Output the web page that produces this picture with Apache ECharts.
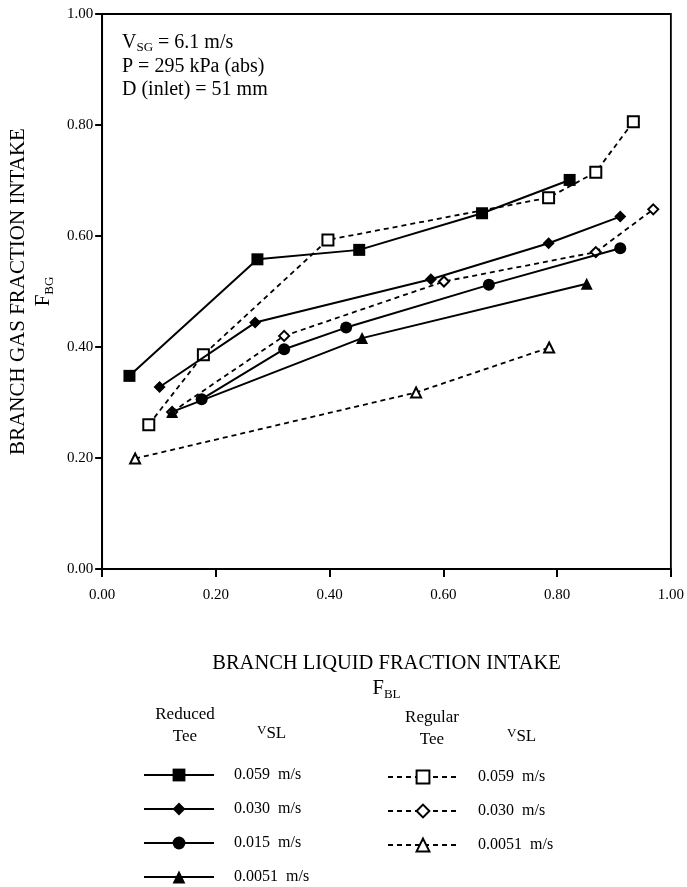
<!DOCTYPE html>
<html>
<head>
<meta charset="utf-8">
<script src="https://cdn.jsdelivr.net/npm/echarts@6/dist/echarts.min.js"></script>
<style>
  html, body { margin: 0; padding: 0; background: #fff; }
  #chart { width: 687px; height: 887px; }
</style>
</head>
<body>
<div id="chart"></div>
<script>
// Branch liquid fraction (F_BL) and branch gas fraction (F_BG) for each run
const reduced059X = [0.048, 0.273, 0.452, 0.668, 0.822];
const reduced059Y = [0.348, 0.558, 0.575, 0.641, 0.701];
const reduced030X = [0.101, 0.269, 0.578, 0.785, 0.911];
const reduced030Y = [0.328, 0.444, 0.522, 0.587, 0.635];
const reduced015X = [0.175, 0.320, 0.429, 0.680, 0.911];
const reduced015Y = [0.306, 0.396, 0.435, 0.512, 0.578];
const reduced0051X = [0.123, 0.457, 0.852];
const reduced0051Y = [0.283, 0.416, 0.514];

const regular059X = [0.082, 0.178, 0.397, 0.785, 0.868, 0.934];
const regular059Y = [0.260, 0.386, 0.593, 0.669, 0.715, 0.806];
const regular030X = [0.123, 0.320, 0.601, 0.868, 0.969];
const regular030Y = [0.283, 0.420, 0.518, 0.571, 0.648];
const regular0051X = [0.058, 0.552, 0.786];
const regular0051Y = [0.199, 0.318, 0.399];

const axisTicks = [0, 0.2, 0.4, 0.6, 0.8, 1.0];

const reducedLabels = ['0.059  m/s', '0.030  m/s', '0.015  m/s', '0.0051  m/s'];
const regularLabels = ['0.059  m/s', '0.030  m/s', '0.0051  m/s'];

const SERIF = '"Liberation Serif", "Times New Roman", serif';

function pairs(xs, ys) { return xs.map((x, i) => [x, ys[i]]); }

function reducedSeries(name, xs, ys, symbol, size) {
  return {
    name, type: 'line', data: pairs(xs, ys), z: 3,
    symbol, symbolSize: size,
    lineStyle: { color: '#000', width: 2, type: 'solid' },
    itemStyle: { color: '#000', borderColor: '#000', borderWidth: 0 },
    emphasis: { disabled: true }
  };
}
function regularSeries(name, xs, ys, symbol, size) {
  return {
    name, type: 'line', data: pairs(xs, ys), z: 2,
    symbol, symbolSize: size,
    lineStyle: { color: '#000', width: 1.8, type: [5, 4] },
    itemStyle: { color: '#fff', borderColor: '#000', borderWidth: 2 },
    emphasis: { disabled: true }
  };
}

const series = [
  regularSeries('R-0.059', regular059X, regular059Y, 'rect', 11),
  regularSeries('R-0.030', regular030X, regular030Y, 'diamond', 10),
  regularSeries('R-0.0051', regular0051X, regular0051Y, 'triangle', 10),
  reducedSeries('T-0.059', reduced059X, reduced059Y, 'rect', 12),
  reducedSeries('T-0.030', reduced030X, reduced030Y, 'diamond', 12),
  reducedSeries('T-0.015', reduced015X, reduced015Y, 'circle', 12),
  reducedSeries('T-0.0051', reduced0051X, reduced0051Y, 'triangle', 12)
];

const reducedNames = ['T-0.059', 'T-0.030', 'T-0.015', 'T-0.0051'];
const regularNames = ['R-0.059', 'R-0.030', 'R-0.0051'];
const legendLabel = {};
reducedNames.forEach((n, i) => legendLabel[n] = reducedLabels[i]);
regularNames.forEach((n, i) => legendLabel[n] = regularLabels[i]);

function subRich(size) {
  return {
    big: { fontFamily: SERIF, fontSize: size, color: '#000', lineHeight: 25, verticalAlign: 'middle' },
    sub: { fontFamily: SERIF, fontSize: 13, color: '#000', lineHeight: 15, verticalAlign: 'bottom', padding: [6, 0, 0, 0] }
  };
}

const legendCommon = {
  orient: 'vertical',
  padding: 0,
  itemWidth: 70,
  itemHeight: 16,
  itemGap: 18,
  selectedMode: false,
  formatter: n => legendLabel[n],
  textStyle: { fontFamily: SERIF, fontSize: 16, color: '#000', padding: [0, 0, 0, 15] }
};

const vslRich = {
  v: { fontFamily: SERIF, fontSize: 13, fill: '#000', verticalAlign: 'top', lineHeight: 18 },
  s: { fontFamily: SERIF, fontSize: 17, fill: '#000', verticalAlign: 'bottom', lineHeight: 15, padding: [7, 0, 0, 0] }
};

const chart = echarts.init(document.getElementById('chart'), null, { renderer: 'canvas' });
chart.setOption({
  animation: false,
  backgroundColor: '#fff',
  grid: {
    left: 100, right: 16, top: 14, bottom: 318,
    show: true, borderColor: '#000', borderWidth: 1.8, backgroundColor: 'transparent'
  },
  xAxis: {
    type: 'value', min: axisTicks[0], max: axisTicks[axisTicks.length - 1], interval: 0.2,
    axisLine: { lineStyle: { color: '#000', width: 2 } },
    axisTick: { show: true, length: 8, lineStyle: { color: '#000', width: 2 } },
    splitLine: { show: false },
    axisLabel: { formatter: v => v.toFixed(2), fontFamily: SERIF, fontSize: 15, color: '#000', margin: 19 },
    name: '{big|BRANCH LIQUID FRACTION INTAKE}\n{big|F}{sub|BL}',
    nameLocation: 'middle', nameGap: 82,
    nameTextStyle: { fontFamily: SERIF, fontSize: 20.5, color: '#000', rich: subRich(20.5) }
  },
  yAxis: {
    type: 'value', min: axisTicks[0], max: axisTicks[axisTicks.length - 1], interval: 0.2,
    axisLine: { show: true, lineStyle: { color: '#000', width: 2 } },
    axisTick: { show: true, length: 7, lineStyle: { color: '#000', width: 2 } },
    splitLine: { show: false },
    axisLabel: { formatter: v => v.toFixed(2), fontFamily: SERIF, fontSize: 15, color: '#000', margin: 9 },
    name: '{big|BRANCH GAS FRACTION INTAKE}\n{big|F}{sub|BG}',
    nameLocation: 'middle', nameGap: 44, nameRotate: 90,
    nameTextStyle: { fontFamily: SERIF, fontSize: 21, color: '#000', rich: subRich(21) }
  },
  legend: [
    Object.assign({ left: 143, top: 767, data: reducedNames }, legendCommon),
    Object.assign({ left: 387, top: 769, data: regularNames }, legendCommon)
  ],
  graphic: [
    {
      type: 'text', x: 122, y: 31,
      style: {
        text: '{m|V}{s|SG}{m| = 6.1 m/s}\n{m|P = 295 kPa (abs)}\n{m|D (inlet) = 51 mm}',
        rich: {
          m: { fontFamily: SERIF, fontSize: 20, fill: '#000', lineHeight: 23.5, verticalAlign: 'middle' },
          s: { fontFamily: SERIF, fontSize: 13, fill: '#000', lineHeight: 14, verticalAlign: 'bottom', padding: [6, 0, 0, 0] }
        }
      }
    },
    {
      type: 'text', x: 185, y: 704,
      style: { text: 'Reduced\nTee', fontFamily: SERIF, fontSize: 17, fill: '#000', align: 'center', lineHeight: 22 }
    },
    {
      type: 'text', x: 257, y: 724,
      style: { text: '{v|V}{s|SL}', rich: vslRich }
    },
    {
      type: 'text', x: 432, y: 707,
      style: { text: 'Regular\nTee', fontFamily: SERIF, fontSize: 17, fill: '#000', align: 'center', lineHeight: 22 }
    },
    {
      type: 'text', x: 507, y: 727,
      style: { text: '{v|V}{s|SL}', rich: vslRich }
    }
  ],
  series
});
</script>
</body>
</html>
